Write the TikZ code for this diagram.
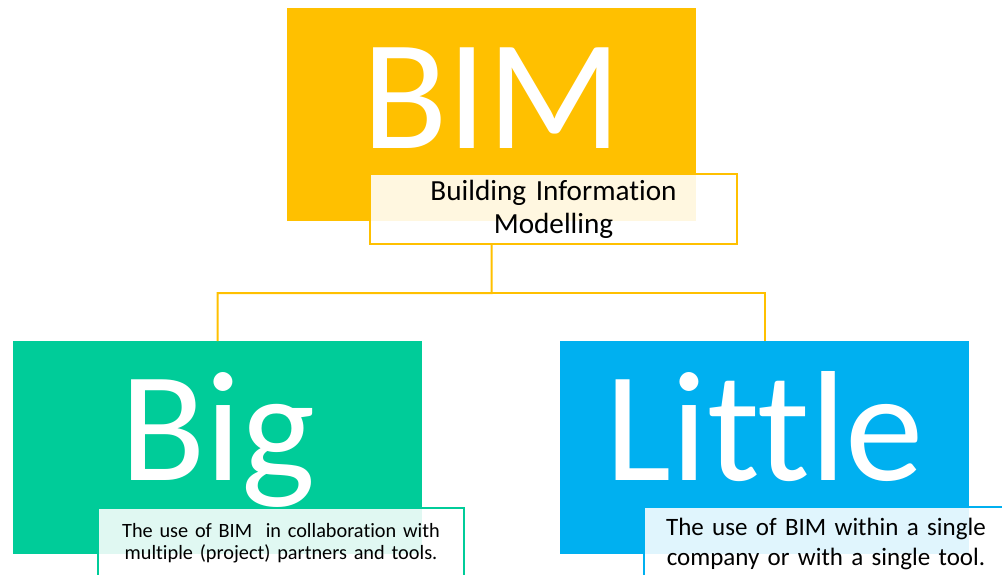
\documentclass[tikz,border=0pt]{standalone}
\usepackage{fontspec}
\setmainfont{Carlito}[Ligatures=NoCommon]
\definecolor{bimyellow}{HTML}{FFC000}
\definecolor{biggreen}{HTML}{00CC99}
\definecolor{littleblue}{HTML}{00B0F0}
\begin{document}
\begin{tikzpicture}[x=1pt,y=-1pt,
  bigbox/.style={anchor=north west,inner sep=0pt,minimum width=409pt,
    text height=140pt,text depth=73pt,text=white,font=\fontsize{157}{160}\selectfont},
  subbox/.style={anchor=north west,draw=#1,line width=2pt,fill=white,
    fill opacity=0.88,text opacity=1,align=center,inner sep=0pt},
  link/.style={draw=bimyellow,line width=2pt}]
\clip (0,0) rectangle (1002,575);

\node[bigbox,fill=bimyellow] (bim) at (287,8) {BIM};
\node[bigbox,fill=biggreen,text height=139pt,text depth=74pt] (big) at (13,341) {Big};
\node[bigbox,fill=littleblue,text height=139pt,text depth=74pt] (little) at (560,341) {Little};

\node[subbox=bimyellow,text width=367pt,minimum height=70pt,font=\fontsize{29.2}{33}\selectfont] (bimsub) at (369,173) {Building Information\\Modelling};
\node[subbox=biggreen,text width=366pt,minimum height=71pt,font=\fontsize{20.3}{22}\selectfont] (bigsub) at (97,507) {The use of BIM \ in collaboration with\\multiple (project) partners and tools.};
\node[subbox=littleblue,text width=364pt,minimum height=74pt,font=\fontsize{25}{30}\selectfont] (littlesub) at (643,506) {The use of BIM within a single\\company or with a single tool.};

\coordinate (hub) at (491.5,293);
\path[link] (bim.south |- bimsub.south) -- (hub) -| (big.north);
\path[link] (hub) -| (little.north);
\end{tikzpicture}
\end{document}
